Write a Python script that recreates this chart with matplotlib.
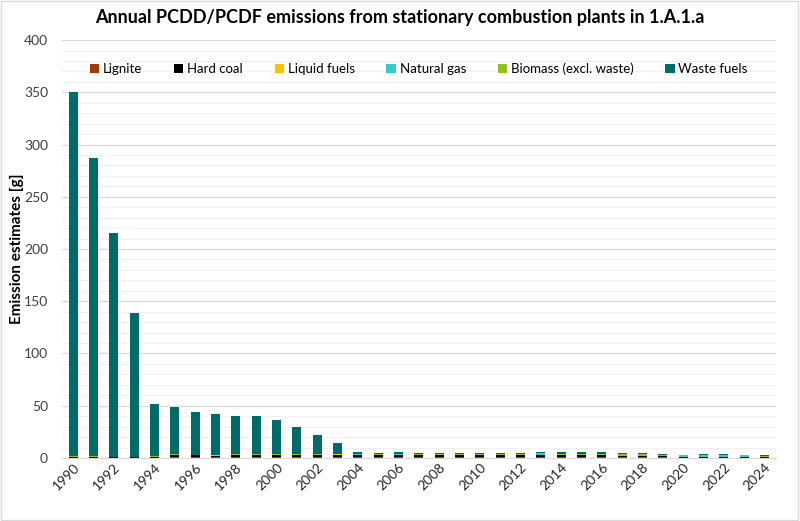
import numpy as np
import matplotlib.pyplot as plt
from matplotlib.patches import Rectangle

plt.rcParams['font.family'] = ['Lato', 'DejaVu Sans']

years = list(range(1990, 2025))
lignite = [0.3, 0.3, 0.3, 0.3, 0.3, 0.8, 0.8, 0.7, 0.8, 0.8, 0.8, 0.8, 0.9, 1.0,
           1.0, 0.9, 0.9, 0.9, 0.8, 0.8, 0.8, 0.8, 0.8, 0.8, 0.8, 0.8, 0.8, 0.6,
           0.6, 0.5, 0.4, 0.4, 0.4, 0.4, 0.3]
hard_coal = [0.2, 0.2, 0.2, 0.2, 0.3, 2.0, 1.8, 1.6, 1.9, 1.9, 1.9, 1.9, 2.0, 2.2,
             2.0, 1.8, 2.0, 1.8, 1.8, 1.6, 1.8, 1.8, 1.8, 2.0, 1.8, 1.8, 1.8, 1.3,
             1.3, 1.0, 0.5, 0.6, 0.6, 0.5, 0.4]
liquid = [0.3, 0.4, 0.2, 0.2, 0.2, 0.2, 0.2, 0.2, 0.2, 0.2, 0.2, 0.2, 0.2, 0.2,
          0.2, 0.2, 0.2, 0.2, 0.2, 0.2, 0.2, 0.2, 0.2, 0.2, 0.2, 0.2, 0.2, 0.2,
          0.2, 0.2, 0.1, 0.1, 0.1, 0.1, 0.1]
natural_gas = [0.1, 0.1, 0.1, 0.1, 0.1, 0.2, 0.2, 0.2, 0.2, 0.2, 0.2, 0.2, 0.2, 0.2,
               0.3, 0.3, 0.3, 0.3, 0.3, 0.4, 0.4, 0.4, 0.4, 0.5, 0.5, 0.5, 0.5, 0.5,
               0.5, 0.6, 0.5, 0.5, 0.5, 0.5, 0.4]
biomass = [0.5, 0.8, 0.4, 0.3, 0.6, 0.3, 0.3, 0.3, 0.4, 0.4, 0.4, 0.4, 0.4, 0.4,
           0.5, 0.5, 0.7, 0.6, 0.6, 0.7, 0.7, 0.7, 0.7, 0.8, 0.8, 0.8, 0.9, 0.9,
           0.9, 0.9, 1.0, 1.0, 1.0, 0.9, 0.9]
waste = [348.6, 285.2, 213.8, 137.7, 50.0, 45.5, 41.0, 39.5, 37.0, 37.0, 33.0, 25.7,
         17.8, 10.5, 1.5, 1.3, 1.4, 1.2, 1.3, 1.3, 1.1, 1.1, 1.3, 1.7, 1.4, 1.4,
         1.3, 1.0, 1.0, 0.8, 0.8, 0.9, 0.9, 0.9, 0.7]

series = [("Lignite", lignite, "#a0390c"),
          ("Hard coal", hard_coal, "#000000"),
          ("Liquid fuels", liquid, "#ffc000"),
          ("Natural gas", natural_gas, "#33cccc"),
          ("Biomass (excl. waste)", biomass, "#92c01f"),
          ("Waste fuels", waste, "#006b68")]

fig = plt.figure(figsize=(8, 5.21), dpi=100)
ax = fig.add_axes([0.0775, 0.121, 0.892, 0.802])

x = np.arange(len(years))
bottom = np.zeros(len(years))
for name, vals, col in series:
    vals = np.array(vals)
    ax.bar(x, vals, 0.45, bottom=bottom, color=col, label=name, zorder=3)
    bottom += vals

ax.set_ylim(0, 400)
ax.set_xlim(-0.55, len(years) - 0.45)
ax.set_yticks(np.arange(0, 401, 50))
ax.set_yticks(np.arange(0, 401, 10), minor=True)
ax.grid(axis='y', which='major', color='#d9d9d9', lw=0.9, zorder=0)
ax.grid(axis='y', which='minor', color='#f0f0f0', lw=0.8, zorder=0)
ax.tick_params(axis='y', which='both', length=0, labelsize=10, colors='#404040', pad=10)
ax.tick_params(axis='x', length=0, labelsize=10, colors='#262626', pad=2)
ax.set_xticks(x[::2])
ax.set_xticklabels([str(y) for y in years[::2]], rotation=45, ha='right',
                   rotation_mode='anchor')
for s in ['top', 'right', 'left']:
    ax.spines[s].set_visible(False)
ax.spines['bottom'].set_color('#d9d9d9')

ax.set_ylabel("Emission estimates [g]", fontsize=11, fontweight='bold', labelpad=0)
fig.suptitle("Annual PCDD/PCDF emissions from stationary combustion plants in 1.A.1.a",
             fontsize=13, fontweight='bold', y=0.982)

ax.legend(loc='upper center', bbox_to_anchor=(0.5, 0.975), ncol=6, frameon=False,
          fontsize=9.5, handlelength=0.7, handleheight=0.7, handletextpad=0.3,
          columnspacing=2.4)

fig.patches.append(Rectangle((0.001, 0.001), 0.997, 0.997, transform=fig.transFigure,
                             fill=False, edgecolor='#d9d9d9', lw=1))

fig.savefig("out.png", dpi=100)
